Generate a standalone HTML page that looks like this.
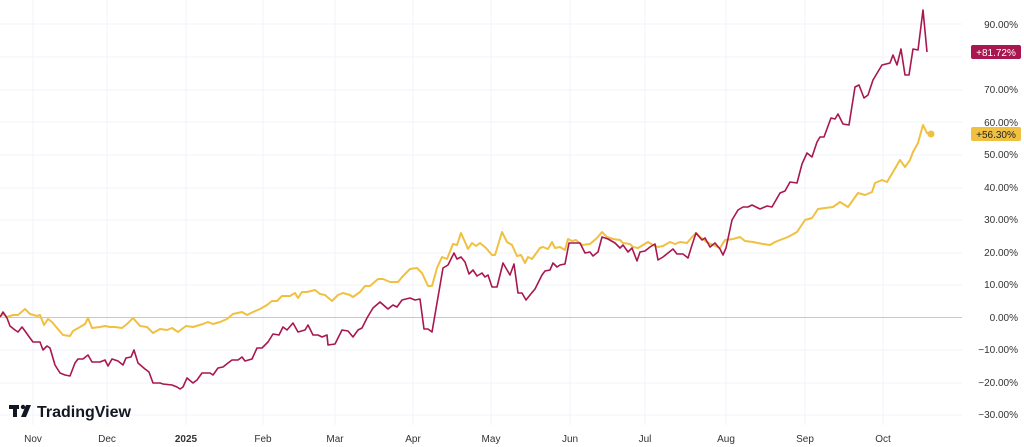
<!DOCTYPE html>
<html><head><meta charset="utf-8"><style>
html,body{margin:0;padding:0;background:#fff;}
svg{display:block;font-family:"Liberation Sans",sans-serif;}
</style></head><body>
<svg width="1024" height="447" viewBox="0 0 1024 447">
<g stroke="#f0f3fa" stroke-width="1">
<line x1="0" y1="24" x2="962" y2="24"/><line x1="0" y1="57" x2="962" y2="57"/><line x1="0" y1="90" x2="962" y2="90"/><line x1="0" y1="122" x2="962" y2="122"/><line x1="0" y1="155" x2="962" y2="155"/><line x1="0" y1="188" x2="962" y2="188"/><line x1="0" y1="220" x2="962" y2="220"/><line x1="0" y1="253" x2="962" y2="253"/><line x1="0" y1="285" x2="962" y2="285"/><line x1="0" y1="350" x2="962" y2="350"/><line x1="0" y1="383" x2="962" y2="383"/><line x1="0" y1="415" x2="962" y2="415"/>
<line x1="33" y1="0" x2="33" y2="425"/><line x1="107" y1="0" x2="107" y2="425"/><line x1="186" y1="0" x2="186" y2="425"/><line x1="263" y1="0" x2="263" y2="425"/><line x1="335" y1="0" x2="335" y2="425"/><line x1="413" y1="0" x2="413" y2="425"/><line x1="491" y1="0" x2="491" y2="425"/><line x1="570" y1="0" x2="570" y2="425"/><line x1="645" y1="0" x2="645" y2="425"/><line x1="726" y1="0" x2="726" y2="425"/><line x1="805" y1="0" x2="805" y2="425"/><line x1="883" y1="0" x2="883" y2="425"/>
</g>
<line x1="0" y1="317.5" x2="962" y2="317.5" stroke="#c8c8c8" stroke-width="1"/>
<polyline fill="none" stroke="#f0c040" stroke-width="2" stroke-linejoin="round" points="0,317 3,314 7,317 13,315 18,315 25,309 30,314 37,316 40,315 44,325 48,319 52,322 57,328 63,335 70,336 73,331 80,327 85,324 88,318 92,328 100,327 105,326 110,327 115,327 122,328 127,324 133,318 140,326 147,327 153,333 160,329 167,330 172,328 178,332 186,326 193,327 203,324 208,322 213,324 220,322 227,319 233,314 242,312 247,315 253,312 260,309 267,305 272,301 277,301 282,296 290,296 295,293 298,298 302,292 307,292 315,290 320,294 325,295 332,301 338,295 343,293 350,295 353,297 360,292 365,286 370,286 378,279 383,279 390,282 398,282 403,276 410,269 417,268 422,273 428,286 432,286 437,268 442,257 447,259 453,244 457,245 461,233 465,242 468,249 472,243 476,246 480,243 486,248 492,255 495,255 502,232 507,242 512,245 517,256 521,255 525,263 528,257 532,259 540,248 543,247 548,249 552,242 555,248 560,247 565,250 568,239 572,241 576,240 582,245 590,244 597,238 602,232 607,237 613,239 620,240 623,243 630,244 633,247 638,248 643,245 648,242 653,245 658,247 663,246 670,242 675,244 680,242 687,243 692,237 696,233 700,237 707,242 713,245 720,248 725,240 733,239 740,237 745,241 753,242 763,244 770,245 775,242 780,240 788,237 797,232 805,220 812,218 818,209 825,208 833,207 840,202 848,207 858,193 865,195 872,192 875,183 882,180 887,182 893,172 900,160 905,167 910,160 913,152 918,143 923,125 927,133 931,134"/>
<circle cx="931" cy="134" r="3.5" fill="#f0c040"/>
<polyline fill="none" stroke="#a8174f" stroke-width="1.6" stroke-linejoin="round" points="0,317 3,312 7,318 10,326 15,330 18,332 22,327 25,331 30,338 33,342 40,342 43,350 47,346 50,348 55,365 60,373 65,375 70,376 75,363 78,359 83,359 88,355 92,362 100,362 105,360 108,366 112,359 118,361 123,365 126,358 131,357 134,350 138,363 145,369 149,372 153,383 160,383 163,384 172,385 177,387 180,389 183,387 187,378 193,383 197,380 202,373 210,373 213,375 218,368 223,367 228,363 232,360 238,360 242,357 245,361 252,359 257,348 262,348 268,342 273,334 279,335 283,327 287,330 293,323 298,332 305,330 308,325 313,335 318,335 322,337 327,335 328,345 335,344 342,330 348,331 353,337 358,330 362,328 367,318 373,308 380,302 388,309 393,305 397,307 402,300 410,298 415,300 420,299 424,329 428,329 432,332 437,303 443,268 448,265 454,253 457,259 461,257 465,262 469,274 473,270 477,276 482,273 485,277 488,275 492,287 497,287 503,263 510,275 514,264 518,293 522,293 526,300 530,295 535,289 542,275 545,271 550,270 553,263 557,267 560,265 565,264 569,243 575,243 580,243 585,253 590,252 593,256 598,252 602,237 608,239 615,243 620,248 623,245 628,252 632,248 637,261 640,252 645,251 650,247 655,244 658,260 663,257 668,253 673,249 677,254 683,254 688,258 692,245 696,233 702,240 705,238 710,247 715,243 720,249 723,255 726,248 732,220 738,210 743,207 748,207 752,205 760,209 767,206 772,207 780,193 785,191 790,182 797,183 802,164 807,153 812,157 817,142 820,137 824,137 831,118 835,119 838,114 843,124 849,125 855,87 859,85 864,98 868,95 873,80 882,65 890,63 893,55 897,65 901,49 905,75 909,75 913,49 918,50 923,10 927,52"/>
<g font-size="10" fill="#333" text-anchor="end">
<text x="1018" y="28">90.00%</text><text x="1018" y="93">70.00%</text><text x="1018" y="126">60.00%</text><text x="1018" y="158">50.00%</text><text x="1018" y="191">40.00%</text><text x="1018" y="223">30.00%</text><text x="1018" y="256">20.00%</text><text x="1018" y="288">10.00%</text><text x="1018" y="321">0.00%</text><text x="1018" y="353">−10.00%</text><text x="1018" y="386">−20.00%</text><text x="1018" y="418">−30.00%</text>
</g>
<rect x="971" y="45" width="50" height="14" rx="2" fill="#a8174f"/>
<text x="996" y="56" font-size="10" fill="#fff" text-anchor="middle">+81.72%</text>
<rect x="971" y="127" width="50" height="14" rx="2" fill="#f0c040"/>
<text x="996" y="138" font-size="10" fill="#222" text-anchor="middle">+56.30%</text>
<g font-size="10" fill="#333" text-anchor="middle">
<text x="33" y="442">Nov</text><text x="107" y="442">Dec</text><text x="186" y="442" font-weight="bold">2025</text><text x="263" y="442">Feb</text><text x="335" y="442">Mar</text><text x="413" y="442">Apr</text><text x="491" y="442">May</text><text x="570" y="442">Jun</text><text x="645" y="442">Jul</text><text x="726" y="442">Aug</text><text x="805" y="442">Sep</text><text x="883" y="442">Oct</text>
</g>
<g fill="#131722">
<rect x="9" y="405" width="10" height="4"/><rect x="13" y="405" width="4" height="12"/>
<circle cx="23" cy="407" r="2.2"/><polygon points="26,405 31,405 26,417 21,417"/>
<text x="37" y="417" font-size="16" font-weight="bold">TradingView</text>
</g>
</svg>
</body></html>
